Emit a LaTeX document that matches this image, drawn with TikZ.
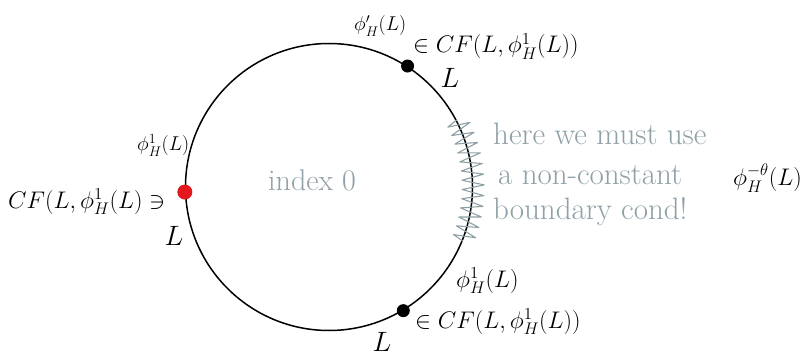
\documentclass[tikz,border=0pt]{standalone}
\usepackage{fix-cm}
\usepackage{amsmath}
\usetikzlibrary{decorations.pathmorphing}
\definecolor{pencil}{RGB}{143,160,166}
\definecolor{dotred}{RGB}{228,22,30}
\tikzset{
  lbl/.style={inner sep=0pt, font=\fontsize{24}{28}\selectfont},
  slbl/.style={inner sep=0pt, font=\fontsize{20}{24}\selectfont},
  bigL/.style={inner sep=0pt, font=\fontsize{28}{32}\selectfont},
  note/.style={inner sep=0pt, text=pencil, font=\fontsize{31}{38}\selectfont},
  pt/.style={circle, fill=black, inner sep=0pt, minimum size=13pt},
}
\begin{document}
\begin{tikzpicture}[x=1pt,y=1pt]
\useasboundingbox (0,0) rectangle (810,-358);
% main disc
\node[circle, draw, line width=1.5pt, minimum size=287pt, inner sep=0pt] (disc) at (329,-187) {};
% wiggly boundary condition
\draw[pencil, line width=1.1pt, line join=round, decorate, decoration={zigzag, segment length=10pt, amplitude=11pt}]
  (disc.-22) arc[start angle=-22, end angle=28, radius=143.5];
% points
\node[pt] (ptop) at (disc.57.5) {};
\node[pt] (pbot) at (disc.-59) {};
\node[pt, fill=dotred, minimum size=15pt] (pleft) at (disc.182) {};
% labels near top point
\node[slbl, anchor=base west] (ttop) at (354,-31) {$\phi'_H(L)$};
\node[lbl, anchor=base west] (cftop) at (413,-53) {$\in CF(L,\phi^1_H(L))$};
\node[bigL] (ltop) at (450,-78) {$L$};
% labels near left point
\node[slbl, anchor=base west] (tleft) at (137,-151) {$\phi^1_H(L)$};
\node[lbl, anchor=base west] (cfleft) at (8,-208) {$CF(L,\phi^1_H(L) \ni$};
\node[bigL] (lleft) at (174,-236) {$L$};
% labels near bottom point
\node[lbl, anchor=base west] (tbot) at (456,-287) {$\phi^1_H(L)$};
\node[lbl, anchor=base west] (cfbot) at (415,-328) {$\in CF(L,\phi^1_H(L))$};
\node[bigL] (lbot) at (382,-342) {$L$};
% inside
\node[note, font=\fontsize{30}{34}\selectfont, anchor=base west] (idx) at (268,-190) {index 0};
% note
\node[note, anchor=base west] (n1) at (493,-145) {here we must use};
\node[note, anchor=base west] (n2) at (498,-184) {a non-constant};
\node[note, anchor=base west] (n3) at (493,-219) {boundary cond!};
% right label
\node[lbl, anchor=base west] (phitheta) at (733,-185) {$\phi^{-\theta}_H(L)$};
\end{tikzpicture}
\end{document}
